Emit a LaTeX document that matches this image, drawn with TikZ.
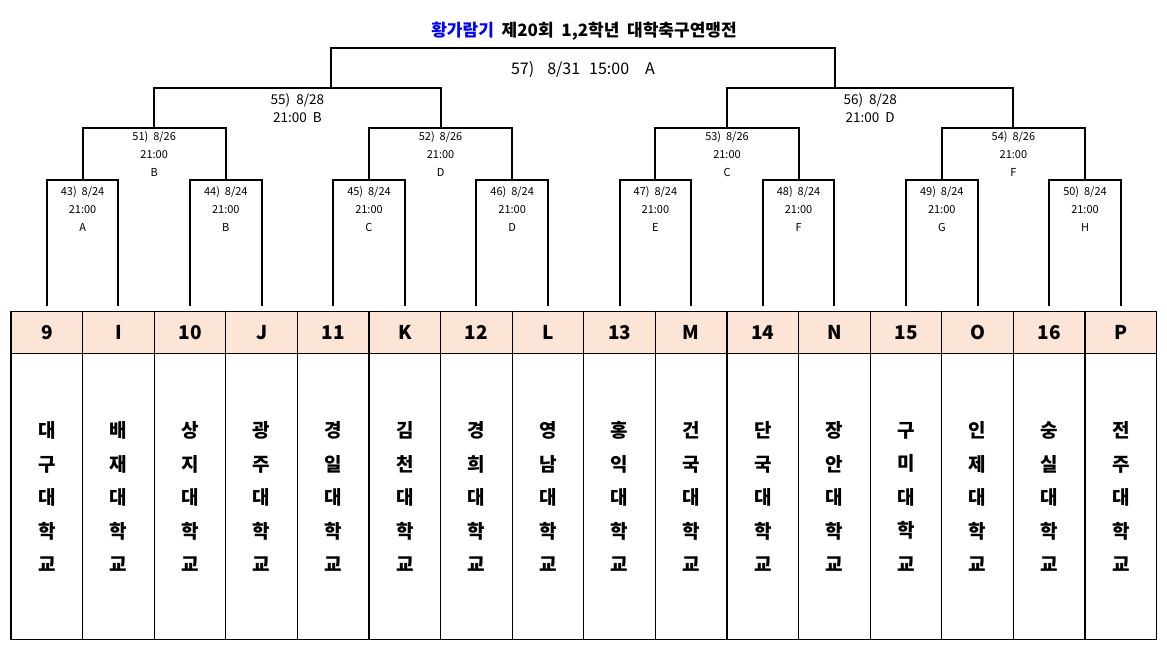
\documentclass[tikz,border=0pt]{standalone}
\usepackage{fontspec}
\setmainfont{Noto Sans CJK KR}
\usepackage{tikz}
\usetikzlibrary{positioning}
\definecolor{peach}{HTML}{FCE4D6}

\begin{document}
\begin{tikzpicture}[
x=1pt, y=-1pt,
every node/.style={inner sep=0, outer sep=0, align=center},
head/.style={draw, line width=1.2pt, fill=peach, minimum width=71.6pt, minimum height=42.7pt, font=\bfseries\fontsize{19}{19}\selectfont},
school/.style={draw, line width=1.2pt, minimum width=71.6pt, minimum height=286pt, font=\bfseries\fontsize{19}{33.5}\selectfont},
game/.style={font=\fontsize{11}{18}\selectfont},
bracket/.style={line width=2pt}
]
\useasboundingbox (0,0) rectangle (1167,647);
\node[font=\bfseries\fontsize{17}{17}\selectfont] (title) at (584,31) {\textcolor{blue}{황가람기}\ \ 제20회\ \ 1,2학년\ \ 대학축구연맹전};

% teams
\foreach \t/\s [count=\i] in {9/{대\\구\\대\\학\\교}, I/{배\\재\\대\\학\\교}, 10/{상\\지\\대\\학\\교}, J/{광\\주\\대\\학\\교}, 11/{경\\일\\대\\학\\교}, K/{김\\천\\대\\학\\교}, 12/{경\\희\\대\\학\\교}, L/{영\\남\\대\\학\\교}, 13/{홍\\익\\대\\학\\교}, M/{건\\국\\대\\학\\교}, 14/{단\\국\\대\\학\\교}, N/{장\\안\\대\\학\\교}, 15/{구\\미\\대\\학\\교}, O/{인\\제\\대\\학\\교}, 16/{숭\\실\\대\\학\\교}, P/{전\\주\\대\\학\\교}} {
  \node[head] (h\i) at ({11+71.6*(\i-0.5)},332.5) {\t};
  \node[school, below=0pt of h\i] (s\i) {\s};
  \coordinate (b\i) at ([yshift=5pt]h\i.north);
}

% round 1
\foreach \m/\l/\r/\z [count=\j] in {43/1/2/A, 44/3/4/B, 45/5/6/C, 46/7/8/D, 47/9/10/E, 48/11/12/F, 49/13/14/G, 50/15/16/H} {
  \coordinate (m\m) at ({11+71.6*(2*\j-1)},180);
  \node[game] (g\m) at ({11+71.6*(2*\j-1)},209) {\m)\ \ 8/24\\21:00\\\z};
  \draw[bracket] (b\l) |- (m\m) -| (b\r);
}

% round 2
\foreach \m/\x/\l/\r/\z in {51/154.2/43/44/B, 52/440.6/45/46/D, 53/727/47/48/C, 54/1013.4/49/50/F} {
  \coordinate (m\m) at (\x,128);
  \node[game] (g\m) at (\x,154) {\m)\ \ 8/26\\21:00\\\z};
  \draw[bracket] (m\l) |- (m\m) -| (m\r);
}

% semi-finals
\coordinate (m55) at (297.4,88);
\coordinate (m56) at (870.2,88);
\node[font=\fontsize{13.5}{18}\selectfont] (g55) at (297.4,108.3) {55)\ \ 8/28\\21:00\ \ B};
\node[font=\fontsize{13.5}{18}\selectfont] (g56) at (870.2,108.3) {56)\ \ 8/28\\21:00\ \ D};
\draw[bracket] (m51) |- (m55) -| (m52);
\draw[bracket] (m53) |- (m56) -| (m54);

% final
\coordinate (l57) at (331,88);
\coordinate (r57) at (835,88);
\coordinate (m57) at (583,48.5);
\node[font=\fontsize{16}{16}\selectfont] (g57) at (583,70) {57)\hspace{13pt}8/31\hspace{9pt}15:00\hspace{16pt}A};
\draw[bracket] (l57) |- (m57) -| (r57);
\end{tikzpicture}
\end{document}
